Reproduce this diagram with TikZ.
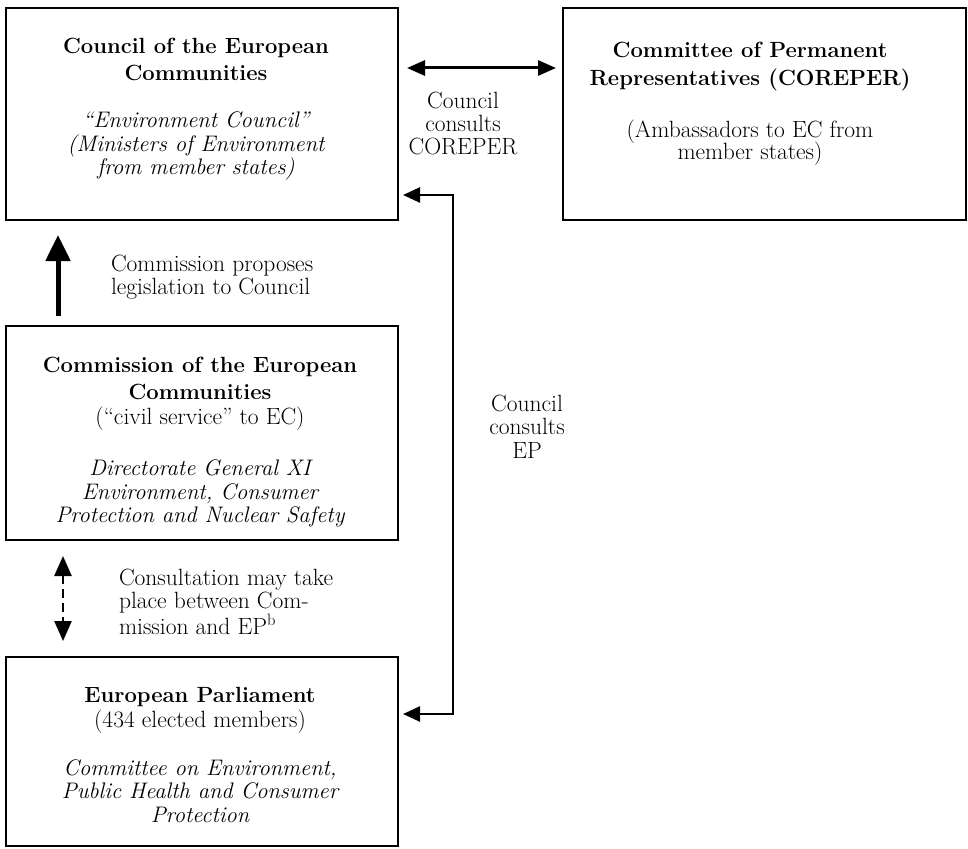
\documentclass[tikz,border=0pt]{standalone}
\usetikzlibrary{arrows.meta}
\newcommand\TBold[1]{{\fontsize{22}{23.5}\selectfont\bfseries #1}}
\newcommand\TItal[1]{{\fontsize{22.5}{23.5}\selectfont\itshape #1}}
\newcommand\TReg[1]{{\fontsize{23.5}{23.5}\selectfont #1}}
\begin{document}
\begin{tikzpicture}[x=1pt,y=-1pt,
  base/.style={font=\fontsize{23.5}{23.5}\selectfont, inner sep=0pt, outer sep=0pt},
  box/.style={draw, line width=2.5pt, inner sep=0pt, outer sep=0pt},
  txt/.style={base, align=center, anchor=north},
  lbl/.style={base, align=left, anchor=north west},
  thin/.style={line width=2.5pt, {Triangle[length=17pt,width=15pt]}-{Triangle[length=17pt,width=15pt]}},
  dbl/.style={line width=3pt, {Triangle[length=18pt,width=15pt]}-{Triangle[length=18pt,width=15pt]}},
  thick/.style={line width=5pt, -{Triangle[length=26pt,width=24pt]}},
  dsh/.style={line width=2.5pt, dash pattern=on 9pt off 5pt, {Triangle[length=20pt,width=17pt]}-{Triangle[length=20pt,width=17pt]}}
]
\useasboundingbox (0,0) rectangle (968,848);
% boxes
\node[box, minimum width=392pt, minimum height=212pt] (council) at (202,114) {};
\node[box, minimum width=403pt, minimum height=212pt] (coreper) at (764.5,114) {};
\node[box, minimum width=392pt, minimum height=214pt] (commission) at (202,433) {};
\node[box, minimum width=392pt, minimum height=189pt] (ep) at (202,751.5) {};
% box texts
\node[txt] (counciltext) at (196,37.7) {\TBold{Council of the European}\\[4pt]
  \TBold{Communities}\\[23.5pt]
  \TItal{``Environment Council''}\\
  \TItal{(Ministers of Environment}\\
  \TItal{from member states)}};
\node[txt] (corepertext) at (750,41.7) {\TBold{Committee of Permanent}\\[4.5pt]
  \TBold{Representatives (COREPER)}\\[28.5pt]
  \TReg{(Ambassadors to EC from}\\[-1.5pt]
  \TReg{member states)}};
\node[txt] (commissiontext) at (200,356.7) {\TBold{Commission of the European}\\[3.5pt]
  \TBold{Communities}\\[1.5pt]
  \TReg{(``civil service'' to EC)}\\[27.5pt]
  \TItal{Directorate General XI}\\[0.5pt]
  \TItal{Environment, Consumer}\\
  \TItal{Protection and Nuclear Safety}};
\node[txt] (eptext) at (200,687.7) {\TBold{European Parliament}\\[1.5pt]
  \TReg{(434 elected members)}\\[24pt]
  \TItal{Committee on Environment,}\\
  \TItal{Public Health and Consumer}\\
  \TItal{Protection}};
% labels
\node[txt] (coreperlbl) at (463,91.7) {Council\\[-0.5pt]consults\\[-0.5pt]COREPER};
\node[txt] (eplbl) at (527,394.7) {Council\\consults\\EP};
\node[lbl] (proplbl) at (111,254.7) {Commission proposes\\legislation to Council};
\node[lbl] (conslbl) at (119,568.7) {Consultation may take\\place between Com-\\mission and EP\textsuperscript{b}};
% connectors
\draw[dbl] ([shift={(9,60)}]council.north east) -- ([shift={(-7,60)}]coreper.north west);
\draw[thick] ([shift={(52,-10)}]commission.north west) -- ([shift={(52,15)}]council.south west);
\draw[dsh] ([shift={(57,16)}]commission.south west) -- ([shift={(57,-16)}]ep.north west);
\coordinate (cin) at ([shift={(5,-25)}]council.south east);
\coordinate (ein) at ([shift={(5,57)}]ep.north east);
\coordinate (bend) at ([xshift=55pt]council.east);
\draw[thin] (cin) -- (cin -| bend) -- (ein -| bend) -- (ein);
\end{tikzpicture}
\end{document}
